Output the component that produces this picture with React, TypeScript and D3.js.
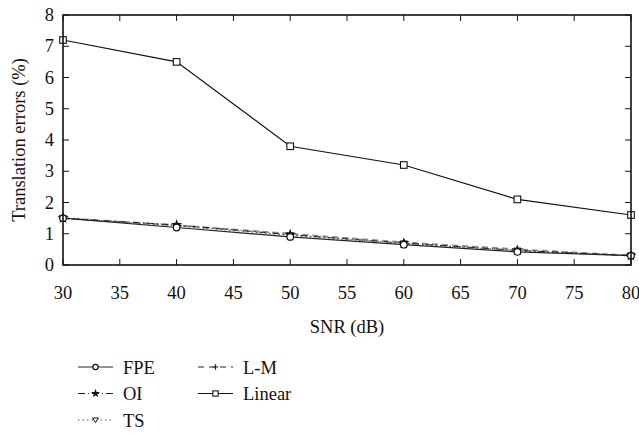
import React from "react";
import * as d3 from "d3";

const snr = [30, 40, 50, 60, 70, 80];
const fpe = [1.5, 1.2, 0.9, 0.65, 0.42, 0.3];
const oi = [1.5, 1.28, 0.97, 0.7, 0.47, 0.3];
const ts = [1.5, 1.25, 0.95, 0.69, 0.46, 0.3];
const lm = [1.5, 1.27, 1.0, 0.72, 0.5, 0.3];
const linear = [7.2, 6.5, 3.8, 3.2, 2.1, 1.6];
const xTicks = [30, 35, 40, 45, 50, 55, 60, 65, 70, 75, 80];
const yTicks = [0, 1, 2, 3, 4, 5, 6, 7, 8];

type Series = {
  name: string;
  values: number[];
  color: string;
  width: number;
  dash?: string;
  marker: string;
};

const series: Series[] = [
  { name: "L-M", values: lm, color: "#8a8a8a", width: 2, dash: "6,4", marker: "plus" },
  { name: "TS", values: ts, color: "#555", width: 1, dash: "1.5,3", marker: "triangle" },
  { name: "OI", values: oi, color: "#222", width: 1, dash: "7,3,1,3", marker: "star" },
  { name: "FPE", values: fpe, color: "#222", width: 1.2, marker: "circle" },
  { name: "Linear", values: linear, color: "#111", width: 1.2, marker: "square" },
];

const legendOrder = [
  { name: "FPE", col: 0, row: 0 },
  { name: "OI", col: 0, row: 1 },
  { name: "TS", col: 0, row: 2 },
  { name: "L-M", col: 1, row: 0 },
  { name: "Linear", col: 1, row: 1 },
];

const textStyle: React.CSSProperties = {
  fontFamily: "Liberation Serif",
  fontSize: 18.5,
  fill: "#111",
};

const width = 639;
const height = 434;
const margin = { top: 15, right: 8, bottom: 169, left: 63 };

const x = d3.scaleLinear().domain([30, 80]).range([margin.left, width - margin.right]);
const y = d3.scaleLinear().domain([0, 8]).range([height - margin.bottom, margin.top]);
const [x0, x1] = x.range();
const [y0, y1] = y.range();

const starPath = (k: number) => d3.symbol().type(d3.symbolStar).size(40 * k * k)() as string;

function Marker({ kind, cx, cy, k = 1 }: { kind: string; cx: number; cy: number; k?: number }) {
  const c = "#111";
  if (kind === "circle")
    return <circle cx={cx} cy={cy} r={3.3 * k} fill="white" stroke={c} strokeWidth={1.2} />;
  if (kind === "square") {
    const s = 3.3 * k;
    return <rect x={cx - s} y={cy - s} width={2 * s} height={2 * s} fill="white" stroke={c} strokeWidth={1.1} />;
  }
  if (kind === "triangle") {
    const s = 3.6 * k;
    return (
      <path
        d={`M${cx - s},${cy - s * 0.7}L${cx + s},${cy - s * 0.7}L${cx},${cy + s * 0.9}Z`}
        fill="white"
        stroke={c}
        strokeWidth={1}
      />
    );
  }
  if (kind === "plus") {
    const s = 3.5 * k;
    return <path d={`M${cx - s},${cy}H${cx + s}M${cx},${cy - s}V${cy + s}`} stroke="#222" strokeWidth={1.2} />;
  }
  return <path d={starPath(k)} transform={`translate(${cx},${cy})`} fill={c} />;
}

export default function App() {
  const line = d3.line<number>().x((_, i) => x(snr[i])).y((d) => y(d));

  return (
    <svg
      width={width}
      height={height}
      style={{ position: "absolute", left: 0, top: 0, background: "white" }}
    >
      {/* inward ticks on all four sides */}
      <g stroke="#111" strokeWidth={1}>
        {xTicks.map((t) => (
          <g key={`xt${t}`}>
            <line x1={x(t)} x2={x(t)} y1={y0} y2={y0 - 6} />
            <line x1={x(t)} x2={x(t)} y1={y1} y2={y1 + 6} />
          </g>
        ))}
        {yTicks.map((t) => (
          <g key={`yt${t}`}>
            <line x1={x0} x2={x0 + 6} y1={y(t)} y2={y(t)} />
            <line x1={x1} x2={x1 - 6} y1={y(t)} y2={y(t)} />
          </g>
        ))}
      </g>

      {series.map((s) => (
        <path
          key={s.name}
          d={line(s.values) as string}
          fill="none"
          stroke={s.color}
          strokeWidth={s.width}
          strokeDasharray={s.dash}
        />
      ))}
      {series.map((s) => (
        <g key={`m${s.name}`}>
          {s.values.map((v, i) => (
            <Marker key={i} kind={s.marker} cx={x(snr[i])} cy={y(v)} />
          ))}
        </g>
      ))}

      <rect x={x0} y={y1} width={x1 - x0} height={y0 - y1} fill="none" stroke="#111" strokeWidth={1.6} />

      {xTicks.map((t) => (
        <text key={`xl${t}`} x={x(t)} y={y0 + 34} textAnchor="middle" style={textStyle}>
          {t}
        </text>
      ))}
      {yTicks.map((t) => (
        <text key={`yl${t}`} x={x0 - 9} y={y(t) + 6} textAnchor="end" style={textStyle}>
          {t}
        </text>
      ))}
      <text x={(x0 + x1) / 2} y={333} textAnchor="middle" style={textStyle}>
        SNR (dB)
      </text>
      <text
        transform={`translate(25,${(y0 + y1) / 2}) rotate(-90)`}
        textAnchor="middle"
        style={textStyle}
      >
        Translation errors (%)
      </text>

      {legendOrder.map((l) => {
        const s = series.find((d) => d.name === l.name)!;
        const lx = 78 + l.col * 120;
        const ly = 367 + l.row * 26.5;
        return (
          <g key={`lg${l.name}`}>
            <line
              x1={lx}
              x2={lx + 35}
              y1={ly}
              y2={ly}
              stroke={s.name === "L-M" ? "#222" : s.color}
              strokeWidth={1}
              strokeDasharray={s.name === "L-M" ? "6,5" : s.dash}
            />
            <Marker kind={s.marker} cx={lx + 17.5} cy={ly} k={0.8} />
            <text x={lx + 45} y={ly + 6.5} style={textStyle}>
              {s.name}
            </text>
          </g>
        );
      })}
    </svg>
  );
}
